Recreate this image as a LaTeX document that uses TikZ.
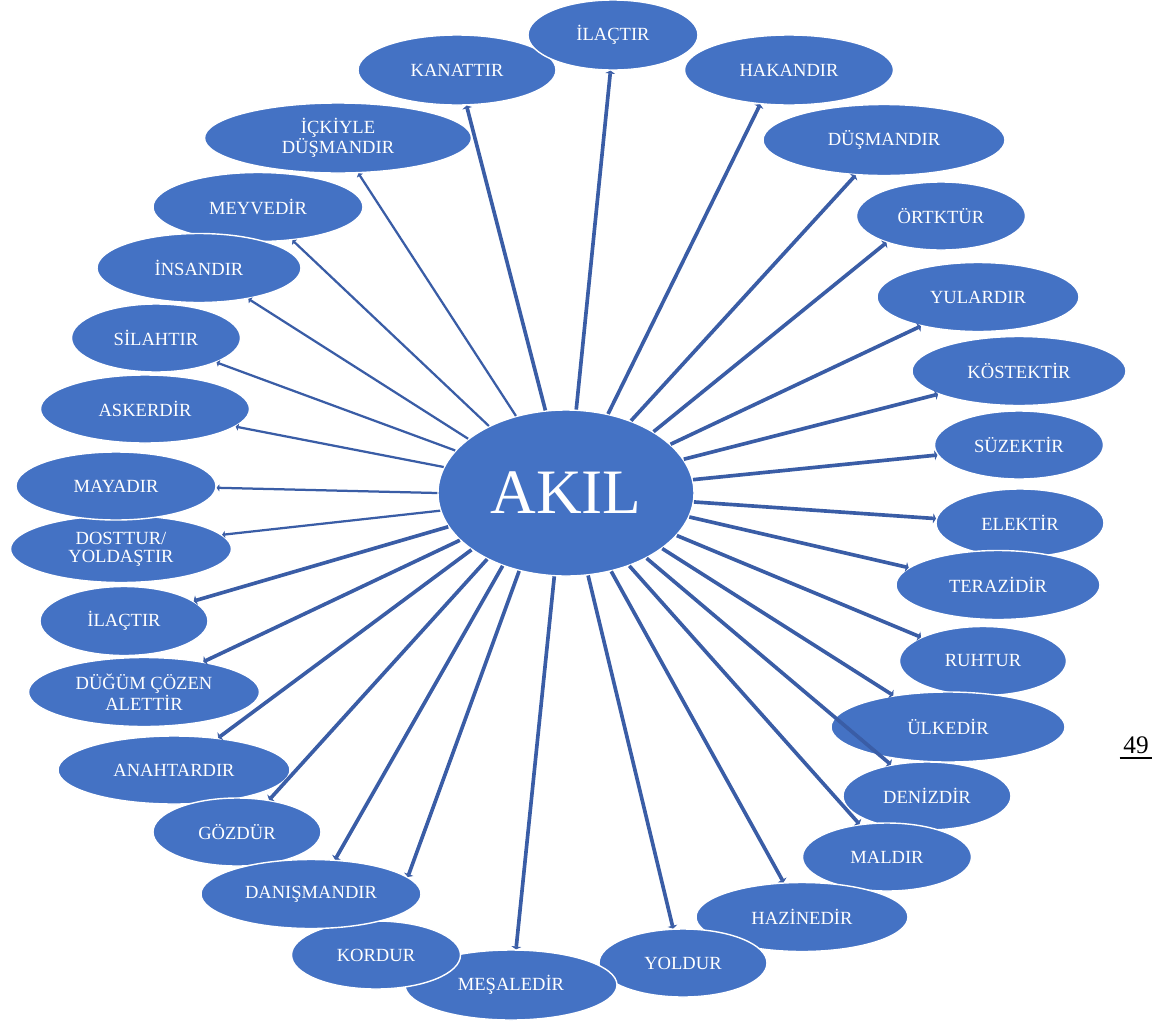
\documentclass[tikz,border=0pt]{standalone}
\usepackage{fontspec}
\setmainfont{Liberation Serif}
\usetikzlibrary{arrows.meta,shapes.geometric}
\definecolor{leafblue}{HTML}{4472C4}
\definecolor{raycol}{HTML}{3A5DA6}
\tikzset{
  Leaf/.style 2 args={ellipse, fill=leafblue, draw=white, line width=1pt,
                      text=white, align=center, inner sep=0pt,
                      font=\fontsize{13.2}{12.6}\selectfont,
                      minimum width=#1*0.025cm, minimum height=#2*0.025cm},
  Core/.style={ellipse, fill=leafblue, draw=white, line width=1pt,
               text=white, inner sep=0pt, font=\fontsize{45}{50}\selectfont,
               minimum width=256*0.025cm, minimum height=166*0.025cm},
  Ray/.style={raycol, line width=2.6pt, -{Triangle[length=2pt,width=7pt]}},
  RayThin/.style={raycol, line width=1.6pt, -{Triangle[length=2pt,width=5pt]}}
}

\begin{document}
\begin{tikzpicture}[x=0.025cm, y=-0.025cm]
  \useasboundingbox (0,0) rectangle (1152,1022);

  \node[Leaf={198}{70}] (kanat) at (457,70) {KANATTIR};
  \node[Leaf={209}{70}] (hakan) at (789,70) {HAKANDIR};
  \node[Leaf={170}{70}] (ilacA) at (613,35) {İLAÇTIR};
  \node[Leaf={267}{70}] (ickiyle) at (338,138) {İÇKİYLE\\DÜŞMANDIR};
  \node[Leaf={242}{71}] (dusman) at (884,140) {DÜŞMANDIR};
  \node[Leaf={210}{69}] (meyve) at (258,207) {MEYVEDİR};
  \node[Leaf={169}{68}] (ortk) at (941,216) {ÖRTKTÜR};
  \node[Leaf={204}{69}] (insan) at (199,268) {İNSANDIR};
  \node[Leaf={202}{69}] (yular) at (978,297) {YULARDIR};
  \node[Leaf={169}{68}] (silah) at (156,338) {SİLAHTIR};
  \node[Leaf={214}{69}] (kostek) at (1019,371) {KÖSTEKTİR};
  \node[Leaf={209}{68}] (asker) at (145,409) {ASKERDİR};
  \node[Leaf={169}{68}] (suzek) at (1019,445) {SÜZEKTİR};
  \node[Leaf={221}{67}] (dost) at (121,549) {DOSTTUR/\\YOLDAŞTIR};
  \node[Leaf={200}{68}] (maya) at (116,486) {MAYADIR};
  \node[Leaf={168}{68}] (elek) at (1020,523) {ELEKTİR};
  \node[Leaf={168}{69}] (ilacB) at (124,621) {İLAÇTIR};
  \node[Leaf={204}{69}] (terazi) at (998,585) {TERAZİDİR};
  \node[Leaf={231}{69}] (dugum) at (144,692) {DÜĞÜM ÇÖZEN\\ALETTİR};
  \node[Leaf={167}{69}] (ruh) at (983,661) {RUHTUR};
  \node[Leaf={234}{70}] (ulke) at (948,727) {ÜLKEDİR};
  \node[Leaf={232}{68}] (anahtar) at (174,770) {ANAHTARDIR};
  \node[Leaf={168}{68}] (deniz) at (927,796) {DENİZDİR};
  \node[Leaf={168}{68}] (goz) at (237,832) {GÖZDÜR};
  \node[Leaf={169}{68}] (mal) at (887,857) {MALDIR};
  \node[Leaf={212}{69}] (hazine) at (802,917) {HAZİNEDİR};
  \node[Leaf={168}{68}] (yoldur) at (683,963) {YOLDUR};
  \node[Leaf={212}{70}] (mesale) at (511,985) {MEŞALEDİR};
  \node[Leaf={169}{68}] (kor) at (376,955) {KORDUR};
  \node[Leaf={220}{69}] (danis) at (311,894) {DANIŞMANDIR};

  \node[Core] (akil) at (566,493) {AKIL};

  \draw[Ray] (akil.83) -- (ilacA.266);
  \draw[Ray] (akil.104) -- (kanat.285);
  \draw[Ray] (akil.62) -- (hakan.230);
  \draw[RayThin] (akil.123) -- (ickiyle.300);
  \draw[Ray] (akil.48) -- (dusman.231);
  \draw[RayThin] (akil.139) -- (meyve.316);
  \draw[Ray] (akil.35) -- (ortk.206);
  \draw[RayThin] (akil.151) -- (insan.328);
  \draw[Ray] (akil.25) -- (yular.207);
  \draw[RayThin] (akil.159) -- (silah.338);
  \draw[Ray] (akil.16) -- (kostek.196);
  \draw[RayThin] (akil.168) -- (asker.349);
  \draw[Ray] (akil.6) -- (suzek.187);
  \draw[RayThin] (akil.180) -- (maya.359);
  \draw[RayThin] (akil.188) -- (dost.8);
  \draw[Ray] (akil.356) -- (elek.177);
  \draw[Ray] (akil.196) -- (ilacB.16);
  \draw[Ray] (akil.349) -- (terazi.169);
  \draw[Ray] (akil.204) -- (dugum.27);
  \draw[Ray] (akil.339) -- (ruh.159);
  \draw[Ray] (akil.211) -- (anahtar.36);
  \draw[Ray] (akil.330) -- (ulke.150);
  \draw[Ray] (akil.220) -- (goz.45);
  \draw[Ray] (akil.321) -- (deniz.139);
  \draw[Ray] (akil.229) -- (danis.55);
  \draw[Ray] (akil.311) -- (mal.130);
  \draw[Ray] (akil.239) -- (danis.10);
  \draw[Ray] (akil.262) -- (mesale.82);
  \draw[Ray] (akil.285) -- (yoldur.106);
  \draw[Ray] (akil.300) -- (hazine.118);

  \node[font=\fontsize{18}{20}\selectfont, minimum width=0.8cm,
        inner xsep=0pt, inner ysep=0.1cm] (pgno) at (1136,745) {49};
  \draw[line width=1.2pt] (pgno.south west) -- (pgno.south east);
\end{tikzpicture}
\end{document}
